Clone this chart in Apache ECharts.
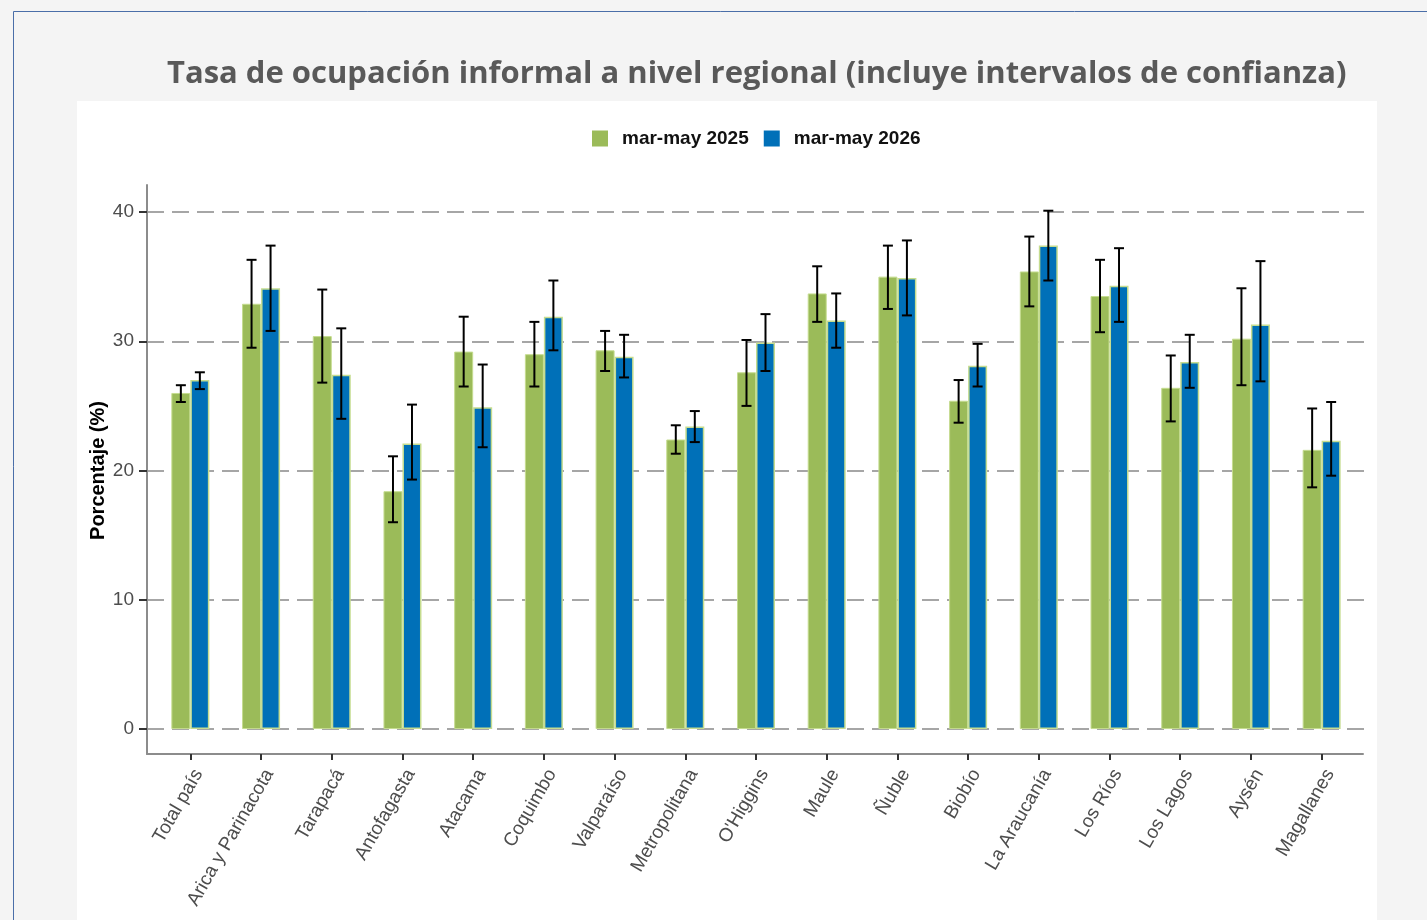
<!DOCTYPE html>
<html>
<head>
<meta charset="utf-8">
<script src="https://cdn.jsdelivr.net/npm/echarts@6/dist/echarts.min.js"></script>
<style>
  html, body { margin: 0; padding: 0; background: #f4f4f4; }
  #chart { width: 1427px; height: 920px; }
</style>
</head>
<body>
<div id="chart"></div>
<script>
const regions = [
    'Total país', 'Arica y Parinacota', 'Tarapacá', 'Antofagasta', 'Atacama',
    'Coquimbo', 'Valparaíso', 'Metropolitana', "O'Higgins", 'Maule',
    'Ñuble', 'Biobío', 'La Araucanía', 'Los Ríos', 'Los Lagos', 'Aysén', 'Magallanes'
];

const rate2025 = [26.0, 32.9, 30.4, 18.4, 29.2, 29.0, 29.3, 22.4, 27.6, 33.7, 35.0, 25.4, 35.4, 33.5, 26.4, 30.2, 21.6];
const low2025  = [25.3, 29.5, 26.8, 16.0, 26.5, 26.5, 27.7, 21.3, 25.0, 31.5, 32.5, 23.7, 32.7, 30.7, 23.8, 26.6, 18.7];
const high2025 = [26.6, 36.3, 34.0, 21.1, 31.9, 31.5, 30.8, 23.5, 30.1, 35.8, 37.4, 27.0, 38.1, 36.3, 28.9, 34.1, 24.8];

const rate2026 = [27.0, 34.1, 27.4, 22.1, 24.9, 31.9, 28.8, 23.4, 29.9, 31.6, 34.9, 28.1, 37.4, 34.3, 28.4, 31.3, 22.3];
const low2026  = [26.3, 30.8, 24.0, 19.3, 21.8, 29.3, 27.2, 22.2, 27.7, 29.5, 32.0, 26.5, 34.7, 31.5, 26.4, 26.9, 19.6];
const high2026 = [27.6, 37.4, 31.0, 25.1, 28.2, 34.7, 30.5, 24.6, 32.1, 33.7, 37.8, 29.8, 40.1, 37.2, 30.5, 36.2, 25.3];

const yTicks = [0, 10, 20, 30, 40];

const greenFill = '#9bbb59';
const blueFill = '#0070b8';
const barEdge = '#c5dc8f';
const BAR_W = 19;
const FONT = 'Liberation Sans, Arial, sans-serif';

function errorBars(name, low, high, shift) {
    return {
        name: name + ' IC',
        type: 'custom',
        xAxisIndex: 1,
        yAxisIndex: 1,
        clip: false,
        z: 5,
        silent: true,
        data: regions.map((r, i) => [i, low[i], high[i]]),
        encode: { x: 0, y: [1, 2] },
        renderItem: function (params, api) {
            const lo = api.coord([api.value(0), api.value(1)]);
            const hi = api.coord([api.value(0), api.value(2)]);
            const x = lo[0] + shift;
            const cap = 5;
            const style = { stroke: '#000', lineWidth: 2 };
            return {
                type: 'group',
                children: [
                    { type: 'line', shape: { x1: x, y1: lo[1], x2: x, y2: hi[1] }, style: style },
                    { type: 'line', shape: { x1: x - cap, y1: hi[1], x2: x + cap, y2: hi[1] }, style: style },
                    { type: 'line', shape: { x1: x - cap, y1: lo[1], x2: x + cap, y2: lo[1] }, style: style }
                ]
            };
        }
    };
}

const chart = echarts.init(document.getElementById('chart'));

chart.setOption({
    backgroundColor: '#f4f4f4',
    animation: false,
    graphic: [
        {
            type: 'rect',
            shape: { x: 13.5, y: 11.5, width: 1440, height: 940 },
            style: { fill: 'none', stroke: '#4a6ea8', lineWidth: 1 },
            z: 0
        },
        {
            type: 'rect',
            shape: { x: 77, y: 101, width: 1300, height: 830 },
            style: { fill: '#ffffff' },
            z: 0
        }
    ],
    title: {
        text: 'Tasa de ocupación informal a nivel regional (incluye intervalos de confianza)',
        left: 162,
        top: 54,
        textStyle: {
            color: '#595959',
            fontFamily: 'Open Sans, sans-serif',
            fontWeight: 'bold',
            fontSize: 31
        }
    },
    legend: {
        data: ['mar-may 2025', 'mar-may 2026'],
        top: 124,
        left: 587,
        itemWidth: 16,
        itemHeight: 16,
        itemGap: 15,
        icon: 'rect',
        itemStyle: { borderWidth: 0 },
        textStyle: {
            color: '#111',
            fontFamily: FONT,
            fontWeight: 'bold',
            fontSize: 19,
            padding: [0, 0, 0, 9]
        }
    },
    grid: [
        // axis frame
        { left: 147, right: 64, top: 185, bottom: 166 },
        // bars, category ticks and labels
        { left: 155, right: 70, top: 212, bottom: 166 },
        // y scale and gridlines
        { left: 147, right: 62, top: 212, bottom: 191 }
    ],
    xAxis: [
        {
            type: 'value',
            gridIndex: 0,
            min: 0,
            max: 1,
            axisLine: { show: true, onZero: false, lineStyle: { color: '#8c8c8c', width: 2 } },
            axisTick: { show: false },
            axisLabel: { show: false },
            splitLine: { show: false }
        },
        {
            type: 'category',
            gridIndex: 1,
            data: regions,
            axisLine: { show: false, onZero: false },
            axisTick: { show: true, alignWithLabel: true, length: 6, lineStyle: { color: '#333', width: 2 } },
            axisLabel: {
                rotate: 60,
                margin: 12,
                verticalAlign: 'top',
                color: '#4d4d4d',
                fontFamily: FONT,
                fontSize: 19
            }
        },
        {
            type: 'value',
            gridIndex: 2,
            show: false
        }
    ],
    yAxis: [
        {
            type: 'value',
            gridIndex: 0,
            min: 0,
            max: 1,
            axisLine: { show: true, onZero: false, lineStyle: { color: '#8c8c8c', width: 2 } },
            axisTick: { show: false },
            axisLabel: { show: false },
            splitLine: { show: false }
        },
        {
            type: 'value',
            gridIndex: 1,
            min: -1.93,
            max: 40,
            show: false
        },
        {
            type: 'value',
            gridIndex: 2,
            min: 0,
            max: 40,
            interval: 10,
            name: 'Porcentaje (%)',
            nameLocation: 'middle',
            nameGap: 39,
            nameMoveOverlap: false,
            nameTextStyle: {
                color: '#000',
                fontFamily: FONT,
                fontWeight: 'bold',
                fontSize: 20
            },
            axisLine: { show: false },
            axisTick: { show: true, length: 8, lineStyle: { color: '#333', width: 2 } },
            axisLabel: {
                color: '#4d4d4d',
                fontFamily: FONT,
                fontSize: 19,
                margin: 13,
                formatter: v => yTicks.includes(v) ? String(v) : ''
            },
            splitLine: {
                show: true,
                lineStyle: { color: '#a6a6a6', width: 2, type: [17, 8] }
            }
        }
    ],
    series: [
        {
            name: 'mar-may 2025',
            type: 'bar',
            xAxisIndex: 1,
            yAxisIndex: 1,
            barWidth: BAR_W,
            barGap: '0%',
            data: rate2025,
            itemStyle: { color: greenFill, borderColor: barEdge, borderWidth: 1 }
        },
        {
            name: 'mar-may 2026',
            type: 'bar',
            xAxisIndex: 1,
            yAxisIndex: 1,
            barWidth: BAR_W,
            barGap: '0%',
            data: rate2026,
            itemStyle: { color: blueFill, borderColor: barEdge, borderWidth: 1.5 }
        },
        errorBars('mar-may 2025', low2025, high2025, -BAR_W / 2),
        errorBars('mar-may 2026', low2026, high2026, BAR_W / 2)
    ]
});
</script>
</body>
</html>
